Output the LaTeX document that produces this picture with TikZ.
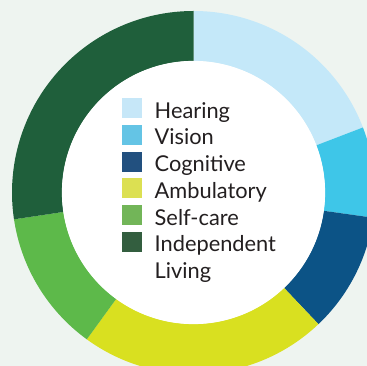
\documentclass[tikz,border=0pt]{standalone}
\usepackage{fontspec}
\setmainfont{Lato}
\usetikzlibrary{calc}
\definecolor{bg}{HTML}{EEF4F0}
\definecolor{hearR}{HTML}{C4E8F9}
\definecolor{visR}{HTML}{3EC6E8}
\definecolor{cogR}{HTML}{0C5386}
\definecolor{ambR}{HTML}{D9E020}
\definecolor{selfR}{HTML}{5DB94A}
\definecolor{indR}{HTML}{1F5F3B}
\definecolor{hearL}{HTML}{C6E7F8}
\definecolor{visL}{HTML}{64C4E5}
\definecolor{cogL}{HTML}{22507F}
\definecolor{ambL}{HTML}{DCE052}
\definecolor{selfL}{HTML}{72B558}
\definecolor{indL}{HTML}{335E3F}
\definecolor{txt}{HTML}{231F20}
\begin{document}
\begin{tikzpicture}[x=1pt,y=1pt,
  swatch/.style={minimum size=20pt, inner sep=0pt, outer sep=0pt, anchor=south west},
  lbl/.style={anchor=base west, inner sep=0pt, font=\fontsize{21.8}{27}\selectfont, text=txt}]
\useasboundingbox (0,0) rectangle (367,366);
\clip (0,0) rectangle (367,366);
\fill[bg] (0,0) rectangle (367,366);
\coordinate (c) at (193.5,173.5);
\foreach \a/\b/\col in {90/21/hearR, 21/-8/visR, -8/-46.5/cogR, -46.5/-126/ambR, -126/-171.5/selfR, -171.5/-270/indR}
  \fill[\col] ($(c)+(\a:181.5)$) arc[start angle=\a, end angle=\b, radius=181.5]
     -- ($(c)+(\b:131.5)$) arc[start angle=\b, end angle=\a, radius=131.5] -- cycle;
\fill[white] (c) circle[radius=131.6];
\node[swatch, fill=hearL] (s1) at (122,247.7) {};
\node[swatch, fill=visL]  (s2) at (122,221.0) {};
\node[swatch, fill=cogL]  (s3) at (122,194.3) {};
\node[swatch, fill=ambL]  (s4) at (122,167.6) {};
\node[swatch, fill=selfL] (s5) at (122,140.9) {};
\node[swatch, fill=indL]  (s6) at (122,114.2) {};
\node[lbl] (t1) at (154.5,247.7) {Hearing};
\node[lbl] (t2) at (154.5,221.0) {Vision};
\node[lbl] (t3) at (154.5,194.3) {Cognitive};
\node[lbl] (t4) at (154.5,167.6) {Ambulatory};
\node[lbl] (t5) at (154.5,140.9) {Self-care};
\node[lbl] (t6) at (154.5,114.2) {Independent};
\node[lbl] (t7) at (154.5,87.5) {Living};
\end{tikzpicture}
\end{document}
